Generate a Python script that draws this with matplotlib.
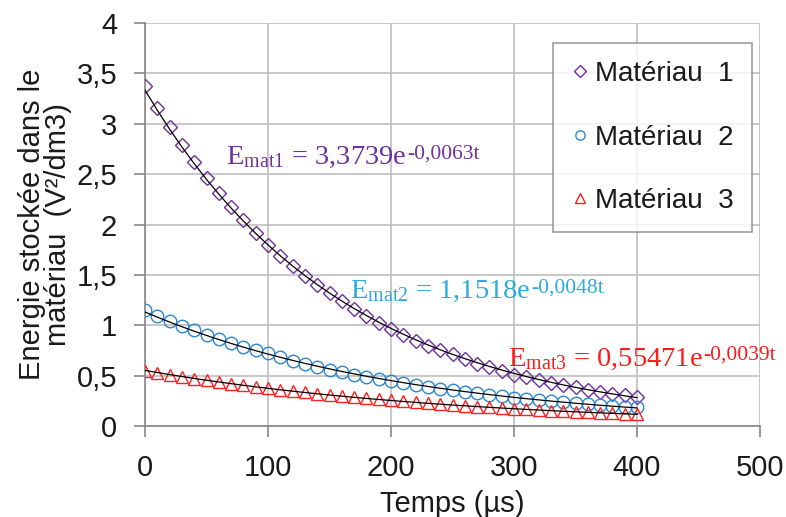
import matplotlib
matplotlib.use("Agg")
import matplotlib.pyplot as plt
import numpy as np

# temps (µs) et énergies
temps = list(range(0, 401, 10))
mat1 = [3.37, 3.16, 2.97, 2.79, 2.62, 2.46, 2.31, 2.17, 2.04, 1.92,
        1.80, 1.69, 1.59, 1.49, 1.40, 1.32, 1.24, 1.16, 1.09, 1.02,
        0.96, 0.90, 0.84, 0.79, 0.75, 0.71, 0.67, 0.62, 0.59, 0.55,
        0.51, 0.49, 0.46, 0.43, 0.41, 0.39, 0.36, 0.34, 0.32, 0.31, 0.29]
mat2 = [1.15, 1.09, 1.04, 0.99, 0.95, 0.90, 0.86, 0.82, 0.78, 0.75,
        0.72, 0.68, 0.65, 0.62, 0.59, 0.56, 0.54, 0.51, 0.49, 0.47,
        0.45, 0.43, 0.41, 0.39, 0.37, 0.355, 0.34, 0.325, 0.31, 0.295,
        0.28, 0.27, 0.26, 0.25, 0.24, 0.225, 0.215, 0.205, 0.20, 0.19, 0.185]
mat3 = [0.55, 0.53, 0.51, 0.49, 0.47, 0.455, 0.435, 0.42, 0.405, 0.39,
        0.375, 0.36, 0.345, 0.335, 0.32, 0.31, 0.295, 0.285, 0.275, 0.265,
        0.255, 0.245, 0.235, 0.225, 0.215, 0.21, 0.20, 0.19, 0.185, 0.18,
        0.17, 0.165, 0.16, 0.15, 0.145, 0.14, 0.135, 0.13, 0.125, 0.12, 0.12]

labels = ["Matériau  1", "Matériau  2", "Matériau  3"]
eq_main = [r"E$_{\mathrm{mat1}}$ = 3,3739e",
           r"E$_{\mathrm{mat2}}$ = 1,1518e",
           r"E$_{\mathrm{mat3}}$ = 0,55471e"]
eq_sup = ["-0,0063t", "-0,0048t", "-0,0039t"]
eq_pos = [(66, 2.60), (167, 1.27), (295, 0.60)]

x_ticks = [0, 100, 200, 300, 400, 500]
y_ticks = [0, 0.5, 1, 1.5, 2, 2.5, 3, 3.5, 4]
y_ticklabels = ["0", "0,5", "1", "1,5", "2", "2,5", "3", "3,5", "4"]

plt.rcParams.update({
    "font.family": ["Liberation Sans", "DejaVu Sans"],
    "font.size": 21,
    "mathtext.fontset": "custom",
    "mathtext.rm": "Liberation Serif",
    "mathtext.it": "Liberation Serif:italic",
    "mathtext.bf": "Liberation Serif:bold",
})

GRID = "#bfbfbf"
AXIS = "#868686"
TXT = "#1a1a1a"
styles = [
    dict(marker="D", ms=7.6, mec="#7030A0"),
    dict(marker="o", ms=9, mec="#2E86D0"),
    dict(marker="^", ms=9, mec="#FF2020"),
]
eq_colors = ["#7030A0", "#29ABE2", "#FF1A1A"]

fig = plt.figure(figsize=(7.86, 5.17), dpi=100)
ax = fig.add_axes([0.1845, 0.176, 0.7825, 0.7795])

t = np.array(temps, dtype=float)
for serie, st, lab in zip([mat1, mat2, mat3], styles, labels):
    ax.plot(temps, serie, linestyle="none", mfc="none", mew=1.0,
            label=lab, zorder=3, **st)
    # courbe de tendance exponentielle (ajustement sur les points)
    b, ln_a = np.polyfit(t, np.log(serie), 1)
    ax.plot(t, np.exp(ln_a) * np.exp(b * t), color="black", lw=0.9, zorder=4)

for main, sup, (ex, ey), col in zip(eq_main, eq_sup, eq_pos, eq_colors):
    txt = ax.text(ex, ey, main, color=col, fontsize=20.5, family="Liberation Serif",
                  ha="left", va="baseline", zorder=5)
    # exposant collé à droite du texte principal
    ax.annotate(sup, xy=(1, ey), xycoords=(txt, "data"), xytext=(0.5, 4.2),
                textcoords="offset points", color=col, fontsize=15.5,
                family="Liberation Serif", ha="left", va="baseline", zorder=5)

ax.set_xlim(0, 500)
ax.set_ylim(0, 4)
ax.set_xticks(x_ticks)
ax.set_yticks(y_ticks)
ax.set_yticklabels(y_ticklabels)
ax.grid(True, color=GRID, lw=1.2)
ax.set_axisbelow(True)
for s in ["top", "right"]:
    ax.spines[s].set_visible(False)
for s in ["left", "bottom"]:
    ax.spines[s].set_color(AXIS)
    ax.spines[s].set_linewidth(1.2)
ax.tick_params(direction="out", length=8, width=1.2, color=AXIS, pad=12,
               labelcolor=TXT)

ax.set_xlabel("Temps (µs)", labelpad=6, color=TXT)
ax.set_ylabel("Energie stockée dans le\nmatériau  (V²/dm3)", labelpad=3,
              color=TXT, linespacing=0.95)

leg = ax.legend(loc="upper right", bbox_to_anchor=(0.987, 0.950),
                frameon=True, fancybox=False, edgecolor=AXIS, fontsize=20,
                handlelength=0.6, handletextpad=0.26, labelspacing=1.35,
                borderpad=0.65, markerscale=0.75, borderaxespad=0)
leg.get_frame().set_linewidth(1.2)
for lt in leg.get_texts():
    lt.set_color(TXT)

fig.savefig("out.png", dpi=100)
